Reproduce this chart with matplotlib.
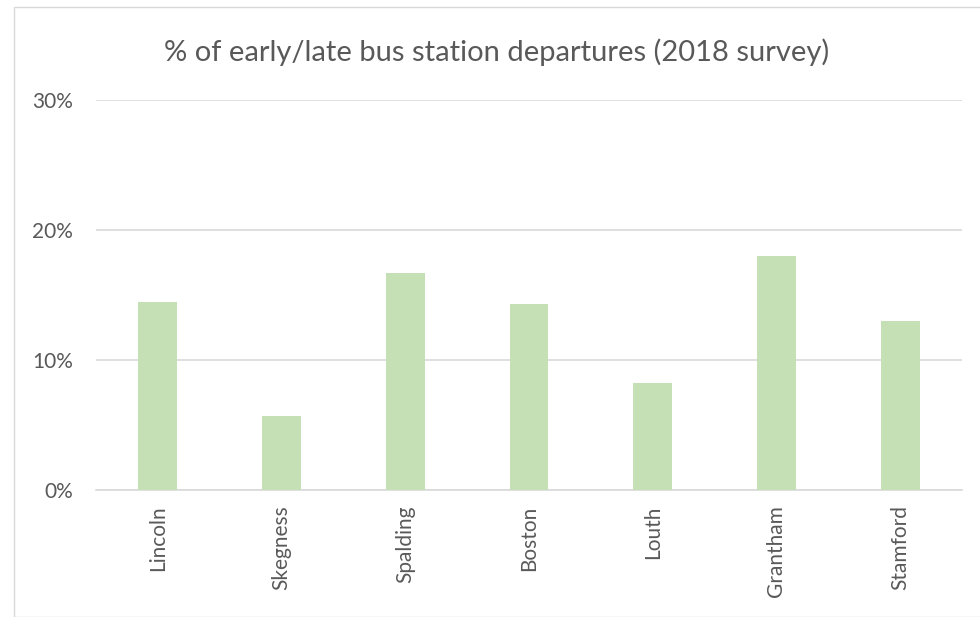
import numpy as np
import matplotlib
matplotlib.use('Agg')
from matplotlib import pyplot as plt
from matplotlib.patches import Rectangle

# données
towns = ['Lincoln', 'Skegness', 'Spalding', 'Boston', 'Louth', 'Grantham', 'Stamford']
pct = [0.145, 0.057, 0.167, 0.143, 0.082, 0.180, 0.130]
yticks = [0, 0.10, 0.20, 0.30]
ytick_labels = ['0%', '10%', '20%', '30%']

grey = '#595959'
plt.rcParams['font.family'] = ['Lato', 'DejaVu Sans']

fig = plt.figure(figsize=(9.8, 6.17), dpi=100)
W, H = 980, 617

# cadre du graphique
fig.patches.append(Rectangle((14 / W, 0), 1.2, 1 - 7 / H, transform=fig.transFigure,
                             fill=False, edgecolor='#d9d9d9', linewidth=1))

ax = fig.add_axes([96 / W, (H - 490) / H, (962 - 96) / W, (490 - 100) / H])
x = np.arange(len(towns))
ax.bar(x, pct, width=0.315, color='#c5e0b4', zorder=3)
ax.set_xlim(-0.5, len(towns) - 0.5)
ax.set_ylim(0, 0.30)
ax.set_yticks(yticks)
ax.set_yticklabels(ytick_labels)
ax.set_xticks(x)
ax.set_xticklabels(towns, rotation=90)
ax.grid(axis='y', color='#d9d9d9', linewidth=1.2, zorder=0)
for s in ['top', 'right', 'left']:
    ax.spines[s].set_visible(False)
ax.spines['bottom'].set_color('#d9d9d9')
ax.spines['bottom'].set_linewidth(1.2)
ax.tick_params(axis='both', length=0, labelsize=15, colors=grey)
ax.tick_params(axis='y', pad=16.5)
ax.tick_params(axis='x', pad=11)

fig.text(497 / W, 1 - 52 / H, '% of early/late bus station departures (2018 survey)',
         ha='center', va='center', fontsize=21, color=grey)

fig.savefig('out.png', dpi=100)
